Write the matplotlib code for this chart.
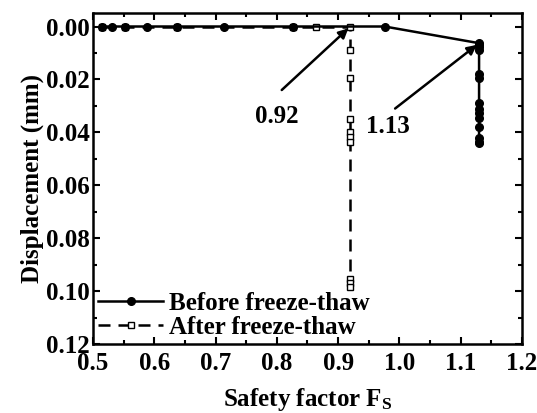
import numpy as np
import matplotlib
matplotlib.use('Agg')
from matplotlib import pyplot as plt
from matplotlib.ticker import MultipleLocator

plt.rcParams['font.family'] = 'Liberation Serif'
plt.rcParams['font.weight'] = 'bold'
plt.rcParams['axes.labelweight'] = 'bold'
plt.rcParams['mathtext.fontset'] = 'custom'
plt.rcParams['mathtext.rm'] = 'Liberation Serif:bold'
plt.rcParams['mathtext.bf'] = 'Liberation Serif:bold'
plt.rcParams['mathtext.it'] = 'Liberation Serif:bold'

# before freeze-thaw
before_fs = [0.515, 0.531, 0.553, 0.588, 0.637, 0.713, 0.827, 0.976,
             1.13, 1.13, 1.13, 1.13, 1.13, 1.13, 1.13, 1.13, 1.13, 1.13, 1.13, 1.13, 1.13, 1.13]
before_disp = [0.0, 0.0, 0.0, 0.0, 0.0, 0.0, 0.0, 0.0,
               0.0063, 0.0070, 0.0078, 0.0088, 0.0180, 0.0195, 0.0290, 0.0310,
               0.0325, 0.0345, 0.0378, 0.0420, 0.0435, 0.0440]

# after freeze-thaw
after_fs = [0.515, 0.553, 0.637, 0.827, 0.864, 0.92, 0.92, 0.92, 0.92, 0.92, 0.92, 0.92, 0.92, 0.92, 0.92]
after_disp = [0.0, 0.0, 0.0, 0.0, 0.0, 0.0, 0.0089, 0.0194, 0.0350, 0.0398, 0.0417, 0.0437,
              0.0955, 0.0970, 0.0985]

fig = plt.figure(figsize=(5.37, 4.13), dpi=100)
ax = fig.add_axes([0.1732, 0.167, 0.7988, 0.8015])

ax.plot(after_fs, after_disp, color='black', lw=1.8, dashes=(4.8, 3.2),
        marker='s', ms=4, mfc='white', mec='black', mew=1.0, label='After freeze-thaw')
ax.plot(before_fs, before_disp, color='black', lw=1.8, marker='o', ms=5.5,
        label='Before freeze-thaw')

ax.set_xlim(0.5, 1.2)
ax.set_ylim(0.12, -0.0051)
ax.xaxis.set_major_locator(MultipleLocator(0.1))
ax.xaxis.set_minor_locator(MultipleLocator(0.05))
ax.yaxis.set_major_locator(MultipleLocator(0.02))
ax.yaxis.set_minor_locator(MultipleLocator(0.01))
ax.xaxis.set_major_formatter(matplotlib.ticker.FormatStrFormatter('%.1f'))
ax.yaxis.set_major_formatter(matplotlib.ticker.FormatStrFormatter('%.2f'))
ax.tick_params(which='both', direction='in', top=True, right=True, labelsize=18, width=1.5)
ax.tick_params(which='major', length=5)
ax.tick_params(which='minor', length=3)
ax.tick_params(axis='x', pad=6)
ax.tick_params(axis='y', pad=2)
for s in ax.spines.values():
    s.set_linewidth(1.8)

ax.set_xlabel('Safety factor F$_\\mathrm{S}$', fontsize=18, fontweight='bold', labelpad=8)
ax.set_ylabel('Displacement (mm)', fontsize=18, fontweight='bold', labelpad=2)

arrow = dict(arrowstyle='-|>', color='black', lw=1.8, mutation_scale=14, shrinkA=0, shrinkB=2)
ax.annotate('', xy=(0.92, 0.0), xytext=(0.808, 0.024), arrowprops=arrow)
ax.annotate('', xy=(1.13, 0.0063), xytext=(0.993, 0.031), arrowprops=arrow)
ax.text(0.80, 0.034, '0.92', fontsize=18, ha='center', va='center')
ax.text(0.981, 0.0378, '1.13', fontsize=18, ha='center', va='center')

h, l = ax.get_legend_handles_labels()
ax.legend(h[::-1], l[::-1], loc='lower left', frameon=False, fontsize=18,
          handlelength=2.6, handletextpad=0.25, labelspacing=0.05,
          borderaxespad=0.1, borderpad=0.1)

fig.savefig('out.png', dpi=100)
